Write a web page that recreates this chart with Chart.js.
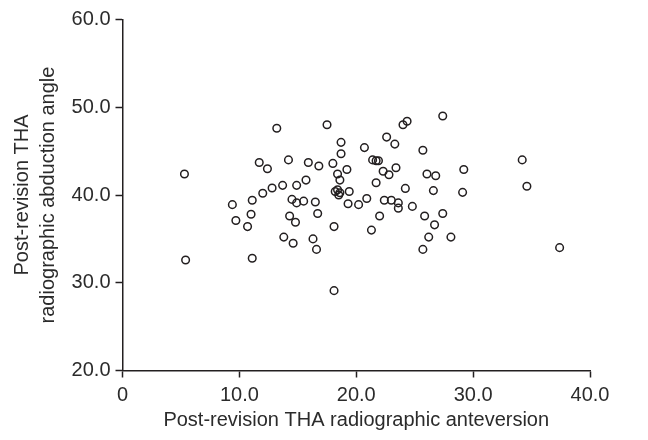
<!DOCTYPE html>
<html>
<head>
<meta charset="utf-8">
<script src="https://cdn.jsdelivr.net/npm/chart.js@4/dist/chart.umd.min.js"></script>
<style>
    html, body { margin: 0; padding: 0; background: #fff; }
    #wrap { width: 648px; height: 440px; }
</style>
</head>
<body>
<div id="wrap"><canvas id="scatterChart" width="648" height="440"></canvas></div>
<script>
// Post-revision anteversion (x) vs abduction angle (y)
const anteversion = [
    5.3, 5.4, 9.4, 9.7, 10.7, 11.0, 11.1, 11.1, 11.7, 12.0,
    12.4, 12.8, 13.2, 13.7, 13.8, 14.2, 14.3, 14.5, 14.6, 14.8,
    14.9, 14.9, 15.5, 15.7, 15.9, 16.3, 16.5, 16.6, 16.7, 16.8,
    17.5, 18.0, 18.1, 18.1, 18.2, 18.4, 18.4, 18.5, 18.6, 18.6,
    18.7, 18.7, 19.2, 19.3, 19.4, 20.2, 20.7, 20.9, 21.3, 21.4,
    21.7, 21.7, 21.9, 22.0, 22.3, 22.4, 22.6, 22.8, 23.0, 23.3,
    23.4, 23.6, 23.6, 24.0, 24.2, 24.35, 24.8, 25.7, 25.7, 25.85,
    26.05, 26.2, 26.6, 26.7, 26.8, 27.4, 27.4, 28.1, 29.1, 29.2,
    34.2, 34.6, 37.4
];
const abduction = [
    42.4, 32.6, 38.9, 37.1, 36.4, 37.8, 39.4, 32.8, 43.7, 40.2,
    43.0, 40.8, 47.6, 41.1, 35.2, 44.0, 37.6, 39.5, 34.5, 36.9,
    39.1, 41.1, 39.3, 41.7, 43.7, 35.0, 39.2, 33.8, 37.9, 43.3,
    48.0, 43.6, 36.4, 29.1, 40.4, 40.6, 42.4, 40.0, 40.25, 41.7,
    46.0, 44.7, 42.9, 39.0, 40.4, 38.9, 45.4, 39.6, 36.0, 44.0,
    41.4, 43.9, 43.9, 37.6, 42.7, 39.4, 46.6, 42.3, 39.4, 45.8,
    43.1, 39.1, 38.5, 48.0, 40.75, 48.4, 38.7, 45.1, 33.8, 37.6,
    42.4, 35.2, 40.5, 36.6, 42.2, 49.0, 37.9, 35.2, 40.3, 42.9,
    44.0, 41.0, 34.0
];

const xTicks = [0, 10, 20, 30, 40];
const xTickLabels = ['0', '10.0', '20.0', '30.0', '40.0'];
const yTicks = [20, 30, 40, 50, 60];
const yTickLabels = ['20.0', '30.0', '40.0', '50.0', '60.0'];

const ink = '#231f20';
const textInk = '#2b2b2b';
const fontFamily = 'Liberation Sans, Arial, sans-serif';

const points = anteversion.map((x, i) => ({ x: x, y: abduction[i] }));

const ctx = document.getElementById('scatterChart').getContext('2d');

new Chart(ctx, {
    type: 'scatter',
    data: {
        datasets: [{
            data: points,
            pointStyle: 'circle',
            pointRadius: 3.8,
            pointBorderWidth: 1.5,
            pointBorderColor: ink,
            pointBackgroundColor: 'rgba(0,0,0,0)'
        }]
    },
    options: {
        responsive: false,
        animation: false,
        layout: {
            padding: { top: 19.5, right: 58, bottom: 0, left: 0 }
        },
        plugins: {
            legend: { display: false },
            tooltip: { enabled: false }
        },
        scales: {
            x: {
                type: 'linear',
                min: xTicks[0],
                max: xTicks[xTicks.length - 1],
                afterFit: scale => { scale.height = 69.5; },
                afterBuildTicks: scale => {
                    scale.ticks = xTicks.map(v => ({ value: v }));
                },
                ticks: {
                    color: textInk,
                    font: { family: fontFamily, size: 20 },
                    padding: 6,
                    maxRotation: 0,
                    callback: (v) => xTickLabels[xTicks.indexOf(v)]
                },
                grid: {
                    drawOnChartArea: false,
                    drawTicks: true,
                    tickLength: 7,
                    tickWidth: 1.5,
                    tickColor: ink
                },
                border: { display: true, color: ink, width: 1.5 },
                title: {
                    display: true,
                    text: 'Post-revision THA radiographic anteversion',
                    color: textInk,
                    font: { family: fontFamily, size: 20, lineHeight: 1.2 },
                    padding: { top: 0, bottom: 8 }
                }
            },
            y: {
                type: 'linear',
                min: yTicks[0],
                max: yTicks[yTicks.length - 1],
                afterFit: scale => { scale.width = 122.5; },
                afterBuildTicks: scale => {
                    scale.ticks = yTicks.map(v => ({ value: v }));
                },
                ticks: {
                    color: textInk,
                    font: { family: fontFamily, size: 20 },
                    padding: 5,
                    callback: (v) => yTickLabels[yTicks.indexOf(v)]
                },
                grid: {
                    drawOnChartArea: false,
                    drawTicks: true,
                    tickLength: 7,
                    tickWidth: 1.5,
                    tickColor: ink
                },
                border: { display: true, color: ink, width: 1.5 },
                title: {
                    display: true,
                    text: ['Post-revision THA', 'radiographic abduction angle'],
                    color: textInk,
                    font: { family: fontFamily, size: 20, lineHeight: 1.3 },
                    padding: { top: 9, bottom: 0 }
                }
            }
        }
    }
});
</script>
</body>
</html>
